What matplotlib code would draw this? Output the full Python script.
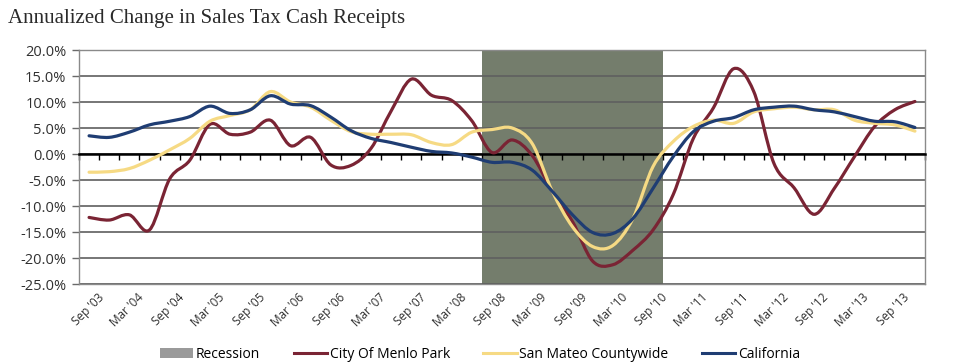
import numpy as np
import matplotlib
matplotlib.use("Agg")
import matplotlib.pyplot as plt
from matplotlib.path import Path
from matplotlib.patches import PathPatch, Patch
from matplotlib.lines import Line2D

# ---- data (quarterly, Sep '03 .. Dec '13) ----
menlo_park = [-12.2, -12.7, -11.7, -14.6, -4.8, -1.2, 5.7, 3.8, 4.2, 6.5,
              1.6, 3.2, -2.1, -2.2, 1.1, 8.3, 14.4, 11.3, 10.3, 6.4,
              0.3, 2.7, -0.3, -7.2, -13.0, -20.6, -21.3, -18.5, -14.6, -7.8,
              3.0, 8.9, 16.4, 12.0, -1.8, -6.5, -11.6, -6.6, -0.5, 5.3,
              8.5, 10.1]
san_mateo = [-3.5, -3.4, -2.8, -1.2, 0.8, 3.0, 6.3, 7.4, 8.5, 12.0,
             10.0, 9.0, 6.5, 4.3, 3.8, 3.8, 3.7, 2.2, 1.8, 4.2,
             4.7, 5.0, 2.0, -7.2, -14.0, -17.8, -17.6, -12.4, -2.4, 2.4,
             5.3, 6.5, 5.9, 8.1, 8.7, 9.0, 8.5, 8.5, 6.5, 5.9,
             5.6, 4.4]
california = [3.5, 3.2, 4.2, 5.6, 6.3, 7.2, 9.2, 7.8, 8.5, 11.2,
              9.6, 9.3, 7.1, 4.5, 3.0, 2.2, 1.3, 0.5, 0.2, -0.6,
              -1.6, -1.6, -3.1, -7.2, -11.7, -15.1, -15.3, -12.4, -6.6, -0.5,
              4.3, 6.3, 7.0, 8.5, 9.0, 9.2, 8.5, 8.1, 7.2, 6.3,
              6.2, 5.1]
recession_start = "Sep '08"
recession_end = "Sep '10"
tick_labels = ["Sep '03", "Mar '04", "Sep '04", "Mar '05", "Sep '05", "Mar '06",
               "Sep '06", "Mar '07", "Sep '07", "Mar '08", "Sep '08", "Mar '09",
               "Sep '09", "Mar '10", "Sep '10", "Mar '11", "Sep '11", "Mar '12",
               "Sep '12", "Mar '13", "Sep '13"]
y_ticks = [-25, -20, -15, -10, -5, 0, 5, 10, 15, 20]

n = len(menlo_park)
x = np.arange(n)
label_pos = np.arange(0, 2 * len(tick_labels), 2)
rec_i0 = label_pos[tick_labels.index(recession_start)]
rec_i1 = label_pos[tick_labels.index(recession_end)]

C_MENLO = "#7a2434"
C_SM = "#f6da84"
C_CA = "#1f3d73"
C_REC = "#747d6c"
SANS = ["Open Sans", "DejaVu Sans"]


def smooth_path(xs, ys):
    pts = np.column_stack([xs, ys]).astype(float)
    m = len(pts)
    verts = [pts[0]]
    codes = [Path.MOVETO]
    for i in range(m - 1):
        p0 = pts[i - 1] if i > 0 else pts[i]
        p1 = pts[i]
        p2 = pts[i + 1]
        p3 = pts[i + 2] if i + 2 < m else pts[i + 1]
        verts += [p1 + (p2 - p0) / 6.0, p2 - (p3 - p1) / 6.0, p2]
        codes += [Path.CURVE4] * 3
    return Path(verts, codes)


fig = plt.figure(figsize=(9.59, 3.64), dpi=100)
ax = fig.add_axes([79 / 959, 1 - 284 / 364, (925 - 79) / 959, (284 - 50) / 364])

ax.set_xlim(-0.5, n - 0.5)
ax.set_ylim(-25, 20)

# recession shading
ax.axvspan(rec_i0 - 0.5, rec_i1 + 0.5, color=C_REC, zorder=0.3, lw=0)

# gridlines
ax.set_axisbelow(True)
ax.set_yticks(y_ticks)
ax.set_yticklabels([f"{v:.1f}%" for v in y_ticks])
ax.yaxis.grid(True, color="#5f5f5f", lw=1.2)

# series (smoothed like Excel)
for vals, col in [(menlo_park, C_MENLO), (san_mateo, C_SM), (california, C_CA)]:
    ax.add_patch(PathPatch(smooth_path(x, vals), fill=False, edgecolor=col,
                           lw=2.3, zorder=3, capstyle="round", joinstyle="round"))

# zero axis with tick marks between categories
ax.spines["bottom"].set_position(("data", 0))
ax.spines["bottom"].set_color("black")
ax.spines["bottom"].set_linewidth(1.8)
ax.spines["bottom"].set_zorder(2.5)
ax.set_xticks(np.arange(-0.5, n, 1.0))
ax.tick_params(axis="x", direction="out", length=4, width=1, color="black",
               labelbottom=False)
for s in ["top", "right", "left"]:
    ax.spines[s].set_color("#8a8a8a")
    ax.spines[s].set_linewidth(1.0)
ax.tick_params(axis="y", direction="out", length=5, width=1, color="#6a6a6a",
               labelsize=10.5, labelcolor="#303030", pad=4)
for t in ax.get_yticklabels():
    t.set_fontfamily(SANS)

# category labels at bottom
sec = ax.secondary_xaxis(0.0)
sec.set_xticks(label_pos)
sec.set_xticklabels(tick_labels, rotation=45, ha="right",
                    rotation_mode="anchor", fontsize=8.5, color="#303030",
                    fontfamily=SANS)
sec.tick_params(axis="x", length=0, pad=5)
sec.spines["bottom"].set_color("#8a8a8a")
sec.spines["bottom"].set_linewidth(1.0)
for lab in sec.get_xticklabels():
    lab.set_transform(lab.get_transform() +
                      matplotlib.transforms.ScaledTranslation(8 / 100, 0, fig.dpi_scale_trans))

# title
fig.text(8 / 959, 1 - 18 / 364, "Annualized Change in Sales Tax Cash Receipts",
         fontsize=15, family=["Liberation Serif", "DejaVu Serif"],
         color="#2a2a2a", va="center", ha="left")

# legend
handles = [Patch(facecolor="#9a9a9a", edgecolor="none"),
           Line2D([], [], color=C_MENLO, lw=2.2),
           Line2D([], [], color=C_SM, lw=2.2),
           Line2D([], [], color=C_CA, lw=2.2)]
labels = ["Recession", "City Of Menlo Park", "San Mateo Countywide", "California"]
fig.legend(handles, labels, loc="center", bbox_to_anchor=(480 / 959, 1 - 354 / 364),
           ncol=4, frameon=False, handlelength=2.4,
           handletextpad=0.2, columnspacing=2.4,
           prop={"family": SANS, "size": 10})

fig.savefig("out.png", dpi=100)
